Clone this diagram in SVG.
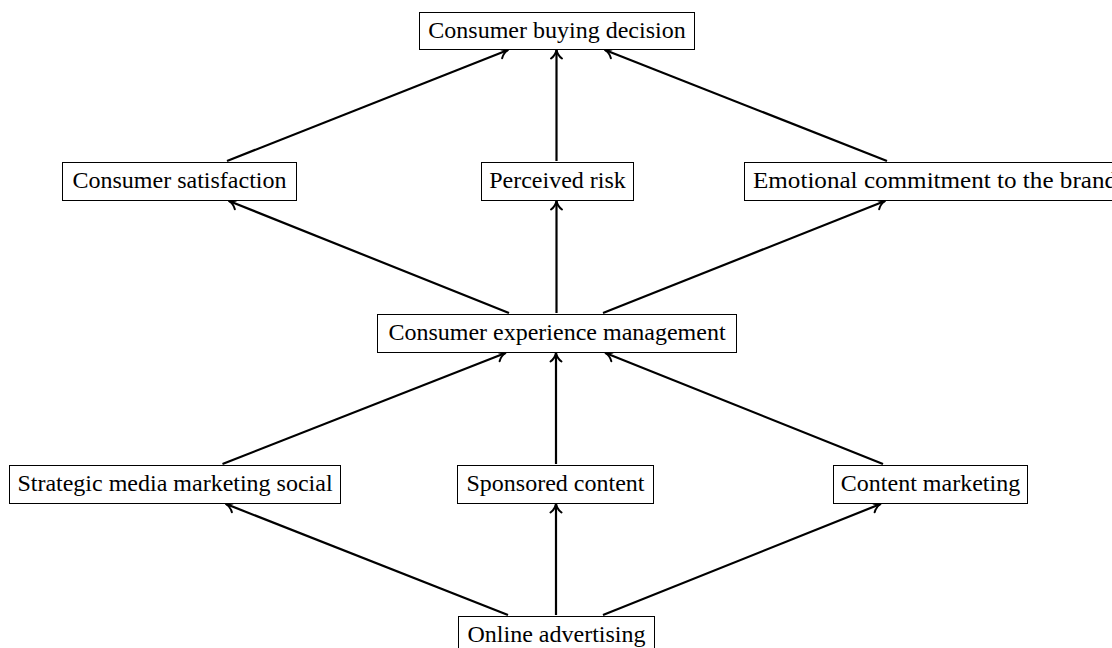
<svg xmlns="http://www.w3.org/2000/svg" width="1112" height="648" viewBox="0 0 1112 648">
<style>
.box{fill:#fff;stroke:#000;stroke-width:1}
.lbl{font-family:"Liberation Serif","Times New Roman",serif;font-size:24px;fill:#000;text-anchor:middle}
.edge{stroke:#000;stroke-width:2.2;fill:none;marker-end:url(#tip)}
</style>
<defs>
<marker id="tip" viewBox="-11 -7 12 14" refX="0" refY="0" markerWidth="12" markerHeight="14" markerUnits="userSpaceOnUse" orient="auto" overflow="visible">
<path d="M -8.5,-5.5 C -6,-2 -2.5,-0.5 0,0 C -2.5,0.5 -6,2 -8.5,5.5" fill="none" stroke="#000" stroke-width="2" stroke-linecap="round" stroke-linejoin="round"/>
</marker>
</defs>
<rect width="1112" height="648" fill="#fff"/>
<g id="connectors">
<line class="edge" x1="227" y1="161" x2="508" y2="50"/>
<line class="edge" x1="556.5" y1="161" x2="556.5" y2="50"/>
<line class="edge" x1="887" y1="161" x2="605" y2="50"/>
<line class="edge" x1="509" y1="313" x2="229" y2="201"/>
<line class="edge" x1="556.5" y1="313" x2="556.5" y2="201"/>
<line class="edge" x1="603" y1="313" x2="885" y2="201"/>
<line class="edge" x1="222.5" y1="464" x2="505.5" y2="353"/>
<line class="edge" x1="556" y1="464" x2="556" y2="353"/>
<line class="edge" x1="883" y1="464" x2="605.5" y2="353"/>
<line class="edge" x1="508" y1="615" x2="226" y2="504"/>
<line class="edge" x1="556" y1="615" x2="556" y2="504"/>
<line class="edge" x1="603" y1="615" x2="880.5" y2="504"/>
</g>
<g id="consumer-buying-decision">
<rect class="box" x="419.5" y="12.5" width="275" height="37"/>
<text class="lbl" x="557" y="37.5">Consumer buying decision</text>
</g>
<g id="consumer-satisfaction">
<rect class="box" x="62.5" y="162.5" width="234" height="38"/>
<text class="lbl" x="179.5" y="188">Consumer satisfaction</text>
</g>
<g id="perceived-risk">
<rect class="box" x="481.5" y="162.5" width="152" height="38"/>
<text class="lbl" x="557.5" y="188">Perceived risk</text>
</g>
<g id="emotional-commitment">
<rect class="box" x="744.5" y="162.5" width="382" height="38"/>
<text class="lbl" x="753" y="188" style="text-anchor:start" textLength="364" lengthAdjust="spacingAndGlyphs">Emotional commitment to the brand</text>
</g>
<g id="consumer-experience-management">
<rect class="box" x="377.5" y="314.5" width="359" height="38"/>
<text class="lbl" x="557" y="340">Consumer experience management</text>
</g>
<g id="strategic-media-marketing-social">
<rect class="box" x="9.5" y="465.5" width="331" height="38"/>
<text class="lbl" x="175" y="491">Strategic media marketing social</text>
</g>
<g id="sponsored-content">
<rect class="box" x="457.5" y="465.5" width="196" height="38"/>
<text class="lbl" x="555.5" y="491">Sponsored content</text>
</g>
<g id="content-marketing">
<rect class="box" x="833.5" y="465.5" width="194" height="38"/>
<text class="lbl" x="930.5" y="491">Content marketing</text>
</g>
<g id="online-advertising">
<rect class="box" x="458.5" y="616.5" width="196" height="38"/>
<text class="lbl" x="556.5" y="642">Online advertising</text>
</g>
</svg>
